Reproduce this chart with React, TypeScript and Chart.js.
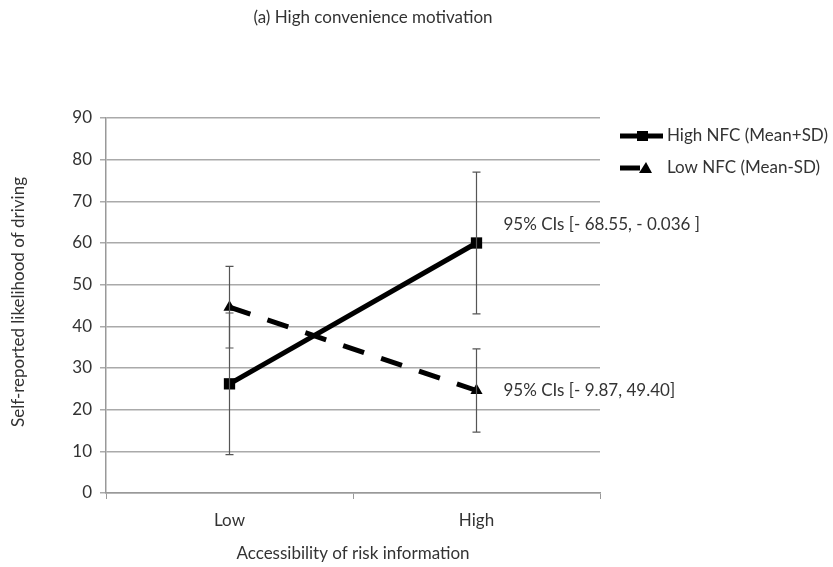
import React, { useEffect, useRef } from "react";
import { Chart, registerables } from "chart.js";
Chart.register(...registerables);

const categories = ["Low", "High"];
const seriesLabels = ["High NFC (Mean+SD)", "Low NFC (Mean-SD)"];
const highNfc = [26.2, 60];
const highNfcErr = [17, 17];
const lowNfc = [44.6, 24.6];
const lowNfcErr = [9.8, 10];
const ciLabels = ["95% CIs [- 68.55, - 0.036 ]", "95% CIs [- 9.87, 49.40]"];
const ciAnchors = [64.5, 24.6];
const titleText = "(a) High convenience motivation";
const yTitleText = "Self-reported likelihood of driving";
const xTitleText = "Accessibility of risk information";

const FONT = "Lato";
const FS = 17;
const TEXT = "#333";

const errorsBySeries = [highNfcErr, lowNfcErr];

const extrasPlugin = {
  id: "extras",
  afterDatasetsDraw(chart: any) {
    const { ctx } = chart;
    const y = chart.scales.y;
    chart.data.datasets.forEach((ds: any, i: number) => {
      const meta = chart.getDatasetMeta(i);
      const errs = errorsBySeries[i];
      meta.data.forEach((pt: any, j: number) => {
        const v = ds.data[j];
        const e = errs[j];
        const yt = y.getPixelForValue(v + e);
        const yb = y.getPixelForValue(v - e);
        ctx.save();
        ctx.strokeStyle = "#555";
        ctx.lineWidth = 1.2;
        ctx.beginPath();
        ctx.moveTo(pt.x, yt);
        ctx.lineTo(pt.x, yb);
        ctx.moveTo(pt.x - 4, yt);
        ctx.lineTo(pt.x + 4, yt);
        ctx.moveTo(pt.x - 4, yb);
        ctx.lineTo(pt.x + 4, yb);
        ctx.stroke();
        ctx.restore();
      });
    });
  },
  afterDraw(chart: any) {
    const { ctx } = chart;
    const x = chart.scales.x;
    const y = chart.scales.y;
    ctx.save();
    ctx.fillStyle = TEXT;
    ctx.font = `${FS}px ${FONT}`;
    ctx.textBaseline = "middle";
    ctx.textAlign = "center";
    ctx.fillText(titleText, 373, 18);
    ctx.save();
    ctx.translate(19, 302);
    ctx.rotate(-Math.PI / 2);
    ctx.fillText(yTitleText, 0, 0);
    ctx.restore();
    ctx.textAlign = "left";
    ciLabels.forEach((t, i) => {
      ctx.fillText(t, x.getPixelForValue(1) + 27, y.getPixelForValue(ciAnchors[i]));
    });
    chart.data.datasets.forEach((ds: any, i: number) => {
      const ly = 136 + i * 32;
      ctx.save();
      ctx.strokeStyle = "#000";
      ctx.lineWidth = 5;
      ctx.beginPath();
      ctx.moveTo(620, ly);
      ctx.lineTo(i === 0 ? 663 : 640, ly);
      ctx.stroke();
      ctx.fillStyle = "#000";
      if (i === 0) {
        ctx.fillRect(637, ly - 5, 11, 10);
      } else {
        ctx.beginPath();
        ctx.moveTo(646, ly - 6);
        ctx.lineTo(652, ly + 5);
        ctx.lineTo(639, ly + 5);
        ctx.closePath();
        ctx.fill();
      }
      ctx.restore();
      ctx.fillStyle = TEXT;
      ctx.fillText(ds.label, 667, ly);
    });
    ctx.restore();
  },
};

export default function App() {
  const ref = useRef<HTMLCanvasElement>(null);
  useEffect(() => {
    const chart = new Chart(ref.current!, {
      type: "line",
      data: {
        labels: categories,
        datasets: [
          {
            label: seriesLabels[0],
            data: highNfc,
            borderColor: "#000",
            backgroundColor: "#000",
            borderWidth: 5,
            pointStyle: "rect",
            pointRadius: 8,
            pointBorderWidth: 0,
            tension: 0,
          },
          {
            label: seriesLabels[1],
            data: lowNfc,
            borderColor: "#000",
            backgroundColor: "#000",
            borderWidth: 5,
            borderDash: [22, 18],
            pointStyle: "triangle",
            pointRadius: 7,
            pointBorderWidth: 0,
            tension: 0,
          },
        ],
      },
      options: {
        responsive: false,
        animation: false,
        layout: { padding: { left: 36, right: 233, top: 118, bottom: 0 } },
        plugins: { legend: { display: false }, tooltip: { enabled: false }, title: { display: false } },
        scales: {
          x: {
            offset: true,
            afterFit: (s: any) => { s.height = 74; },
            grid: { display: true, drawOnChartArea: false, drawTicks: true, tickLength: 6, color: "#999", offset: true },
            border: { color: "#999", width: 1.5 },
            ticks: { color: TEXT, font: { family: FONT, size: FS }, padding: 11 },
            title: { display: true, text: xTitleText, color: TEXT, font: { family: FONT, size: FS }, padding: { top: 8, bottom: 3 } },
          },
          y: {
            min: 0,
            max: 90,
            afterFit: (s: any) => { s.width = 70; },
            ticks: { stepSize: 10, color: TEXT, font: { family: FONT, size: FS }, padding: 8 },
            grid: { color: "#aaa", lineWidth: 1.5, tickLength: 6, drawTicks: true },
            border: { color: "#999", width: 1.5 },
          },
        },
      },
      plugins: [extrasPlugin],
    } as any);
    return () => chart.destroy();
  }, []);
  return (
    <div style={{ position: "fixed", left: 0, top: 0, width: 833, height: 567, background: "#fff" }}>
      <canvas ref={ref} width={833} height={567} />
    </div>
  );
}
